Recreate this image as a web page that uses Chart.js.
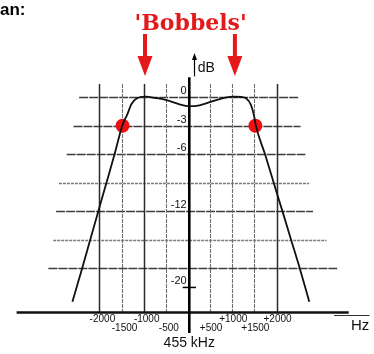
<!DOCTYPE html>
<html><head><meta charset="utf-8">
<script src="https://cdn.jsdelivr.net/npm/chart.js@4/dist/chart.umd.min.js"></script>
<style>html,body{margin:0;padding:0;background:#fff;}canvas{display:block;}</style>
</head><body>
<canvas id="c" width="374" height="354"></canvas>
<script>
// ---- data ----
const curveHz = [-2610,-2391,-2209,-2026,-1841,-1658,-1478,-1370,-1276,-1152,-970,-700,-463,-174,43,260,543,841,1058,1200,1311,1420,1493,1529,1741,1937,2135,2330,2526,2740];
const curveDb = [-21.5,-18,-15,-12,-9,-6,-2.9,-1.8,-0.7,-0.1,0.07,-0.1,-0.33,-0.77,-0.94,-0.84,-0.44,-0.03,0.07,0.03,-0.1,-0.77,-1.95,-2.9,-6,-9,-12,-15,-18,-21.5];
const markerHz = [-1478, 1522];
const markerDb = [-3, -3];
const arrowHz = [-970, 1060];
const yTickDb = [0, -3, -6, -12, -20];
const yTickLabels = ['0', '-3', '-6', '-12', '-20'];
const xTickHz = [-2000, -1500, -1000, -500, 500, 1000, 1500, 2000];
const xTickLabels = ['-2000', '-1500', '-1000', '-500', '+500', '+1000', '+1500', '+2000'];
const hGridDb = [0, -3, -6, -9, -12, -15, -18];
const hGridFromHz = [-2457, -2587, -2739, -2913, -2978, -3043, -3152];
const hGridToHz = [2500, 2543, 2652, 2739, 2826, 3130, 3370];
const vGridHz = [-2000, -1500, -1000, -500, 500, 1000, 1500, 2000];
const axisMinHz = -3870, axisMaxHz = 3630, axisDb = -22.63;

const curveData = curveHz.map((x, i) => ({x, y: curveDb[i]}));
const markerData = markerHz.map((x, i) => ({x, y: markerDb[i]}));

const decor = {
  id: 'decor',
  beforeDatasetsDraw(chart) {
    const {ctx, scales: {x, y}} = chart;
    ctx.save();
    // horizontal grid
    hGridDb.forEach((d, i) => {
      const light = (d === -9 || d === -15);
      const py = Math.round(y.getPixelForValue(d)) + 0.5;
      ctx.strokeStyle = light ? '#7a7a7a' : '#3c3c3c';
      ctx.lineWidth = light ? 1.4 : 1.6;
      ctx.setLineDash(light ? [3, 1] : [9, 1]);
      ctx.beginPath();
      ctx.moveTo(x.getPixelForValue(hGridFromHz[i]), py);
      ctx.lineTo(x.getPixelForValue(hGridToHz[i]), py);
      ctx.stroke();
    });
    // vertical grid
    vGridHz.forEach(h => {
      const px = Math.round(x.getPixelForValue(h)) + 0.5;
      const solid = (h === -2000 || h === 2000 || h === -1000);
      ctx.strokeStyle = solid ? '#2a2a2a' : '#6e6e6e';
      ctx.lineWidth = solid ? 1.5 : 1.1;
      ctx.setLineDash(solid ? [] : [4, 1]);
      ctx.beginPath();
      ctx.moveTo(px, y.getPixelForValue(1.41));
      ctx.lineTo(px, y.getPixelForValue(axisDb));
      ctx.stroke();
    });
    ctx.setLineDash([]);
    // x axis
    ctx.strokeStyle = '#111';
    ctx.lineWidth = 2.4;
    ctx.beginPath();
    ctx.moveTo(x.getPixelForValue(axisMinHz), y.getPixelForValue(axisDb));
    ctx.lineTo(x.getPixelForValue(axisMaxHz), y.getPixelForValue(axisDb));
    ctx.stroke();
    // Hz line
    ctx.lineWidth = 1.2;
    ctx.strokeStyle = '#333';
    ctx.beginPath();
    ctx.moveTo(x.getPixelForValue(3300), y.getPixelForValue(-22.95));
    ctx.lineTo(x.getPixelForValue(4100), y.getPixelForValue(-22.95));
    ctx.stroke();
    // y axis (thick)
    const ax = x.getPixelForValue(30);
    ctx.strokeStyle = '#000';
    ctx.lineWidth = 2.6;
    ctx.beginPath();
    ctx.moveTo(ax, y.getPixelForValue(2.1));
    ctx.lineTo(ax, y.getPixelForValue(-24.8));
    ctx.stroke();
    // -20 tick
    ctx.lineWidth = 1.5;
    ctx.beginPath();
    ctx.moveTo(x.getPixelForValue(-120), y.getPixelForValue(-20));
    ctx.lineTo(x.getPixelForValue(180), y.getPixelForValue(-20));
    ctx.stroke();
    // dB arrow
    const dx = Math.round(x.getPixelForValue(130)) + 0.5;
    ctx.lineWidth = 1.2;
    ctx.beginPath();
    ctx.moveTo(dx, y.getPixelForValue(2.2));
    ctx.lineTo(dx, y.getPixelForValue(4.2));
    ctx.stroke();
    ctx.fillStyle = '#000';
    const ty = y.getPixelForValue(4.65);
    ctx.beginPath();
    ctx.moveTo(dx, ty);
    ctx.lineTo(dx - 2.5, ty + 7);
    ctx.lineTo(dx + 2.5, ty + 7);
    ctx.closePath();
    ctx.fill();
    ctx.restore();
  },
  afterDraw(chart) {
    const {ctx, scales: {x, y}} = chart;
    ctx.save();
    ctx.fillStyle = '#111';
    // y labels
    ctx.font = '11px "Liberation Sans", Arial, sans-serif';
    ctx.textAlign = 'right';
    ctx.textBaseline = 'alphabetic';
    yTickDb.forEach((d, i) => {
      ctx.fillText(yTickLabels[i], x.getPixelForValue(-30), y.getPixelForValue(d) - 3);
    });
    // dB label
    ctx.textAlign = 'left';
    ctx.font = '14px "Liberation Sans", Arial, sans-serif';
    ctx.fillText('dB', x.getPixelForValue(220), y.getPixelForValue(2.63));
    // x labels, two rows
    ctx.font = '10px "Liberation Sans", Arial, sans-serif';
    ctx.textAlign = 'center';
    xTickHz.forEach((h, i) => {
      const row = (Math.abs(h) % 1000 === 0) ? 0 : 1;
      const py = y.getPixelForValue(axisDb) + (row === 0 ? 10 : 19);
      ctx.fillText(xTickLabels[i], x.getPixelForValue(h) + (h > 0 ? 1 : 3), py);
    });
    ctx.font = '14px "Liberation Sans", Arial, sans-serif';
    ctx.fillText('455 kHz', x.getPixelForValue(30), y.getPixelForValue(axisDb) + 35);
    ctx.textAlign = 'left';
    ctx.font = '15px "Liberation Sans", Arial, sans-serif';
    ctx.fillText('Hz', x.getPixelForValue(3680), y.getPixelForValue(axisDb) + 18);
    // title
    ctx.fillStyle = '#000';
    ctx.font = 'bold 17px "Liberation Sans", Arial, sans-serif';
    ctx.fillText('an:', 0, 15);
    ctx.fillStyle = '#e3191c';
    ctx.textAlign = 'center';
    ctx.font = 'bold 22px "DejaVu Serif", serif';
    ctx.fillText("'Bobbels'", x.getPixelForValue(60), 30);
    // red arrows
    arrowHz.forEach(h => {
      const px = x.getPixelForValue(h);
      ctx.fillRect(px - 2, 34, 4, 24);
      ctx.beginPath();
      ctx.moveTo(px - 7.5, 56);
      ctx.lineTo(px + 7.5, 56);
      ctx.lineTo(px, 76);
      ctx.closePath();
      ctx.fill();
    });
    ctx.restore();
  }
};

new Chart(document.getElementById('c'), {
  type: 'scatter',
  data: {
    datasets: [
      {data: curveData, showLine: true, borderColor: '#111', borderWidth: 1.8, pointRadius: 0, cubicInterpolationMode: 'monotone', fill: false},
      {data: markerData, showLine: false, pointRadius: 7, pointBackgroundColor: '#ee1111', pointBorderColor: '#ee1111', pointBorderWidth: 0}
    ]
  },
  options: {
    responsive: false,
    animation: false,
    devicePixelRatio: 1,
    layout: {padding: 0},
    plugins: {legend: {display: false}, tooltip: {enabled: false}, title: {display: false}},
    scales: {
      x: {type: 'linear', display: false, min: -4086.96, max: 4043.48},
      y: {type: 'linear', display: false, min: -26.263, max: 9.495}
    }
  },
  plugins: [decor]
});
</script>
</body></html>
